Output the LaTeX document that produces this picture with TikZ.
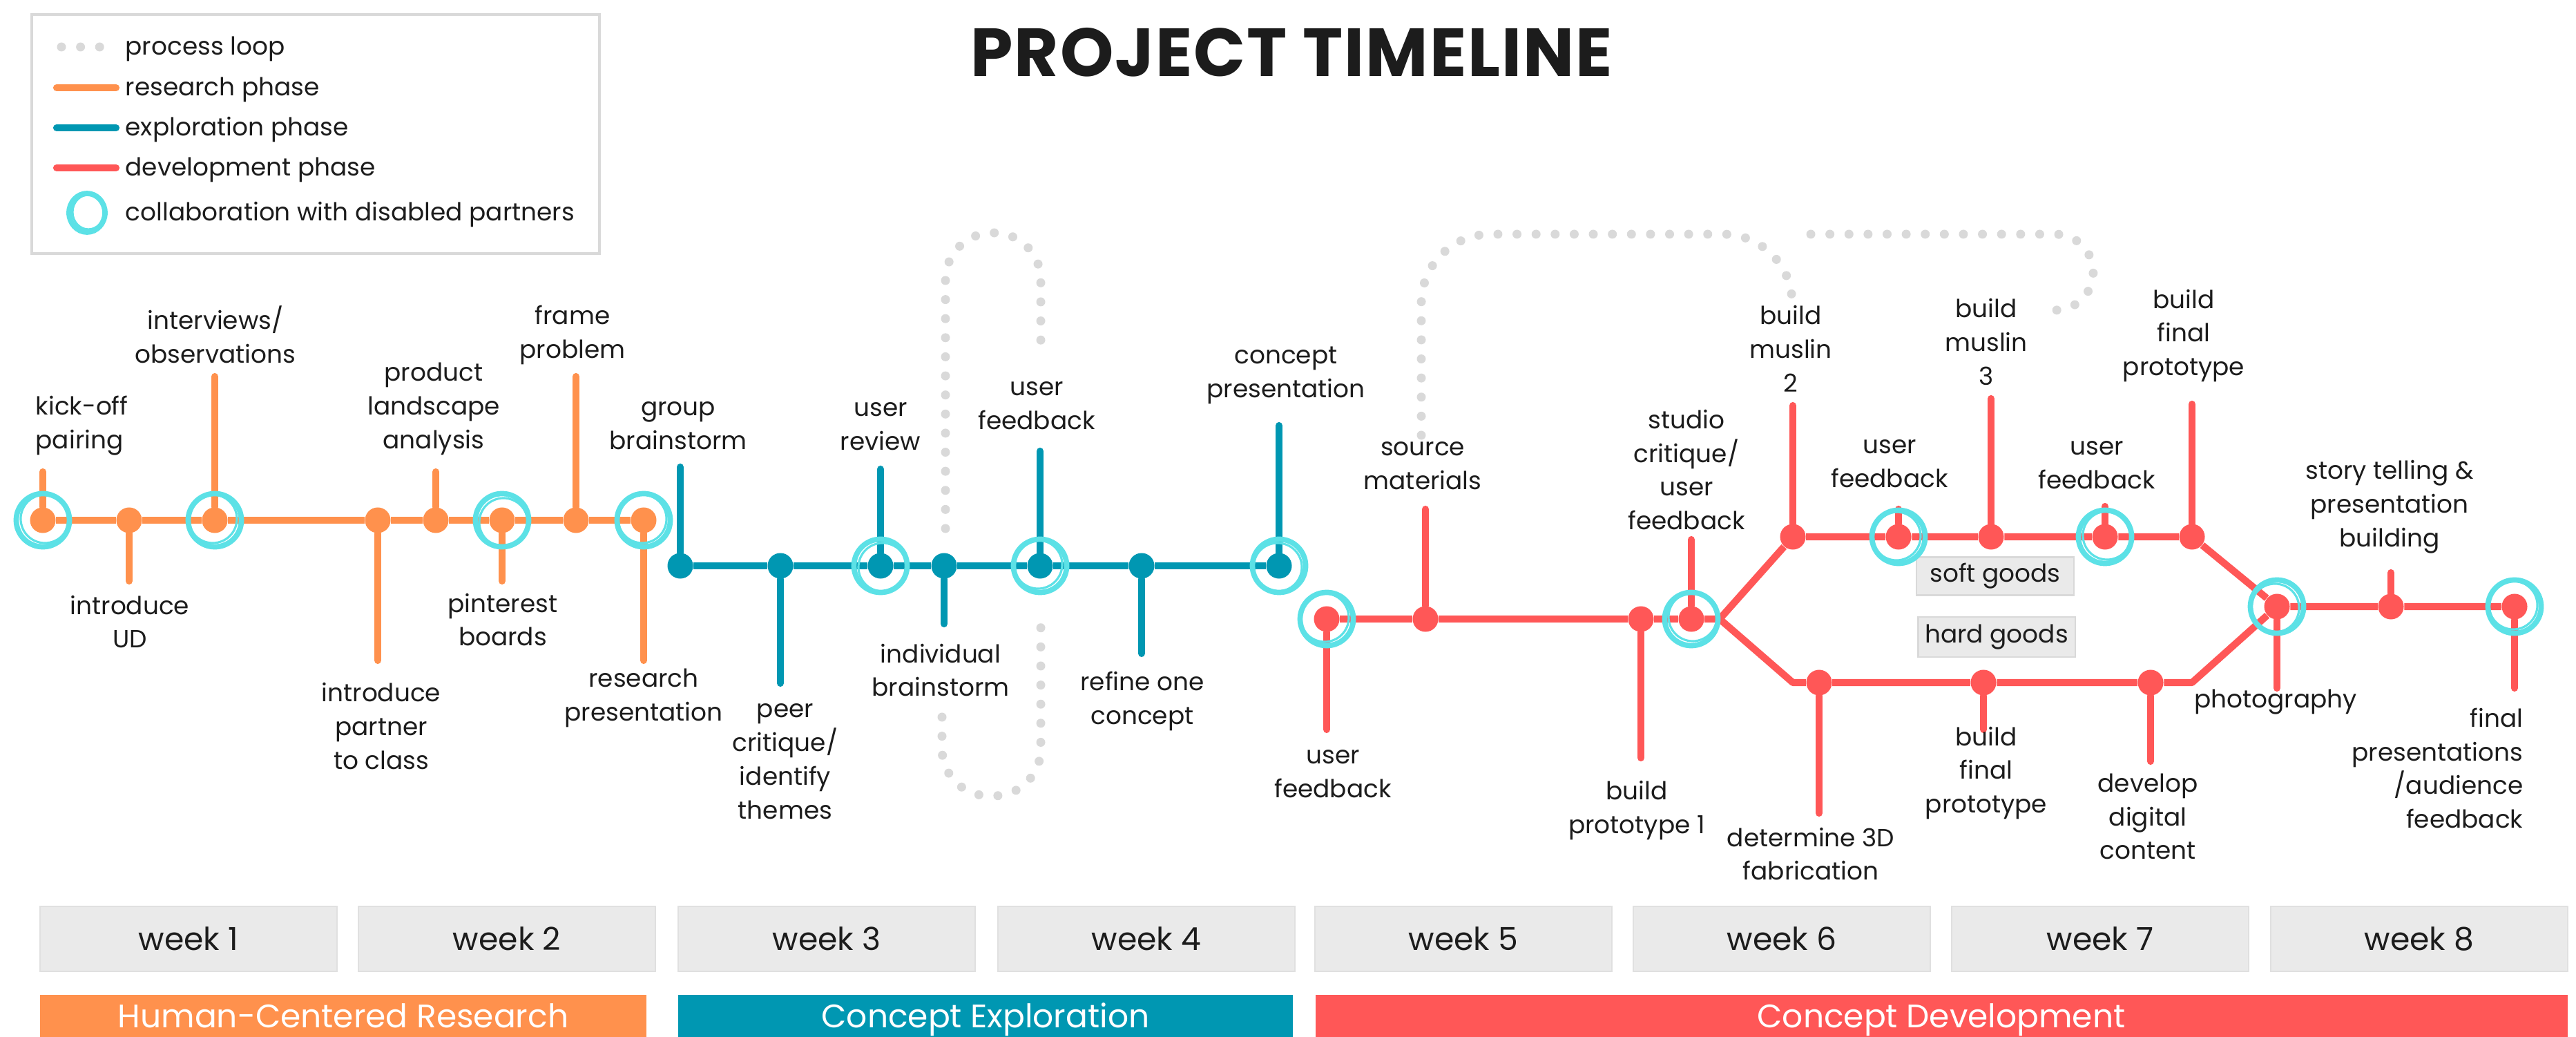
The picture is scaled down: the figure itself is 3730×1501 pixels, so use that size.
\documentclass[tikz,border=0pt]{standalone}
\usepackage{fontspec}
\setmainfont{Poppins}
\definecolor{research}{HTML}{FF914D}
\definecolor{explore}{HTML}{0097B2}
\definecolor{develop}{HTML}{FF5757}
\definecolor{collab}{HTML}{5CE1E6}
\definecolor{loopgray}{HTML}{D9D9D9}
\definecolor{weekgray}{HTML}{EAEAEA}
\definecolor{ink}{HTML}{1C1C1C}
\newcommand{\lblfont}{\fontsize{10.2}{13.9}\selectfont}
\newcommand{\weekfont}{\fontsize{13}{15}\selectfont}
\newcommand{\barfont}{\fontsize{13.4}{16}\selectfont}
\newcommand{\titlefont}{\fontsize{28}{32}\selectfont\bfseries\addfontfeatures{LetterSpace=2}}
\begin{document}
\begin{tikzpicture}[x=0.01cm, y=-0.01cm,
	milestone/.style={circle, fill=#1, inner sep=0pt, minimum size=0.37cm},
	phaseline/.style={draw=#1, line width=2.9pt, line join=round},
	stemline/.style={draw=#1, line width=2.9pt, line cap=round},
	collabring/.style={draw=collab, line width=2.2pt},
	collabin/.style={draw=collab, line width=0.9pt},
	lbl/.style={align=center, inner sep=0pt, font=\lblfont, text=ink},
	legendtext/.style={anchor=west, inner sep=0pt, font=\lblfont, text=ink, text height=1.1ex, text depth=0pt},
	loopdots/.style={draw=loopgray, line width=3.7pt, line cap=round, dash pattern=on 0pt off 0.276cm},
	weekbox/.style={fill=weekgray, draw=black!12, minimum width=4.3cm, minimum height=0.94cm, inner sep=0pt, font=\weekfont, text=ink},
	phasebar/.style={fill=#1, inner sep=0pt, text=white, font=\barfont, minimum height=0.63cm, text height=1.6ex, text depth=0pt},
	goodsbox/.style={fill=weekgray, draw=black!15, line width=0.6pt, inner sep=0pt, font=\lblfont, text=ink}]
	\useasboundingbox (0,0) rectangle (3730,1501);

	% title and legend
	\node[font=\titlefont, text=ink] (title) at (1870,76) {PROJECT TIMELINE};
	\draw[draw=loopgray, line width=0.9pt] (46,21) rectangle (868,367);
	\coordinate (lgdotA) at (89,68);
	\coordinate (lgdotB) at (146,68);
	\draw[loopdots] (lgdotA) -- (lgdotB);
	\coordinate (lgresA) at (82,127);
	\coordinate (lgresB) at (168,127);
	\draw[stemline=research] (lgresA) -- (lgresB);
	\coordinate (lgexpA) at (82,185);
	\coordinate (lgexpB) at (168,185);
	\draw[stemline=explore] (lgexpA) -- (lgexpB);
	\coordinate (lgdevA) at (82,243);
	\coordinate (lgdevB) at (168,243);
	\draw[stemline=develop] (lgdevA) -- (lgdevB);
	\coordinate (lgring) at (126,308);
	\draw[collabring] (lgring) circle[x radius=0.26cm, y radius=0.28cm];
	\draw[collabin] ([shift={(0.02cm,0.01cm)}]lgring) circle[x radius=0.23cm, y radius=0.25cm];
	\node[legendtext] (lgt1) at (181,69) {process loop};
	\node[legendtext] (lgt2) at (181,128) {research phase};
	\node[legendtext] (lgt3) at (181,186) {exploration phase};
	\node[legendtext] (lgt4) at (181,244) {development phase};
	\node[legendtext] (lgt5) at (181,309) {collaboration with disabled partners};

	% process loops
	\draw[loopdots, rounded corners=0.68cm] (1369,765) -- (1369,337) -- (1507,337) -- (1507,518);
	\draw[loopdots, rounded corners=0.68cm] (1364,1038) -- (1364,1152) -- (1507,1152) -- (1507,887);
	\draw[loopdots, rounded corners=1cm] (2058,630) -- (2058,339) -- (2595,339) [rounded corners=0.35cm] -- (2595,431);
	\draw[loopdots, rounded corners=0.55cm] (2622,339) -- (3031,339) -- (3031,449) -- (2960,449);

	% research phase
	\node[milestone=research] (r1) at (62,753) {};
	\node[milestone=research] (r2) at (187,753) {};
	\node[milestone=research] (r3) at (311,753) {};
	\node[milestone=research] (r4) at (547,753) {};
	\node[milestone=research] (r5) at (631,753) {};
	\node[milestone=research] (r6) at (727,753) {};
	\node[milestone=research] (r7) at (834,753) {};
	\node[milestone=research] (r8) at (932,753) {};
	\coordinate (r1e) at (62,683);
	\coordinate (r2e) at (187,841);
	\coordinate (r3e) at (311,545);
	\coordinate (r4e) at (547,956);
	\coordinate (r5e) at (631,683);
	\coordinate (r6e) at (727,841);
	\coordinate (r7e) at (834,545);
	\coordinate (r8e) at (932,956);
	\draw[phaseline=research] (r1) -- (r2) -- (r3) -- (r4) -- (r5) -- (r6) -- (r7) -- (r8);
	\draw[stemline=research] (r1) -- (r1e);
	\draw[stemline=research] (r2) -- (r2e);
	\draw[stemline=research] (r3) -- (r3e);
	\draw[stemline=research] (r4) -- (r4e);
	\draw[stemline=research] (r5) -- (r5e);
	\draw[stemline=research] (r6) -- (r6e);
	\draw[stemline=research] (r7) -- (r7e);
	\draw[stemline=research] (r8) -- (r8e);
	\node[lbl, align=left, anchor=west] (lkick) at (51,616) {kick-off\\pairing};
	\node[lbl] (lud) at (188,900) {introduce\\UD};
	\node[lbl] (linterv) at (312,484) {interviews/\\observations};
	\node[lbl] (lpartner) at (552,1051) {introduce\\partner\\to class};
	\node[lbl] (lproduct) at (628,592) {product\\landscape\\analysis};
	\node[lbl] (lpinterest) at (728,897) {pinterest\\boards};
	\node[lbl] (lframe) at (829,485) {frame\\problem};
	\node[lbl] (lrespres) at (932,1010) {research\\presentation};

	% exploration phase
	\node[milestone=explore] (t1) at (985,819) {};
	\node[milestone=explore] (t2) at (1130,819) {};
	\node[milestone=explore] (t3) at (1275,819) {};
	\node[milestone=explore] (t4) at (1367,819) {};
	\node[milestone=explore] (t5) at (1506,819) {};
	\node[milestone=explore] (t6) at (1653,819) {};
	\node[milestone=explore] (t7) at (1852,819) {};
	\coordinate (t1e) at (985,676);
	\coordinate (t2e) at (1130,989);
	\coordinate (t3e) at (1275,679);
	\coordinate (t4e) at (1367,903);
	\coordinate (t5e) at (1506,653);
	\coordinate (t6e) at (1653,946);
	\coordinate (t7e) at (1852,616);
	\draw[phaseline=explore] (t1) -- (t2) -- (t3) -- (t4) -- (t5) -- (t6) -- (t7);
	\draw[stemline=explore] (t1) -- (t1e);
	\draw[stemline=explore] (t2) -- (t2e);
	\draw[stemline=explore] (t3) -- (t3e);
	\draw[stemline=explore] (t4) -- (t4e);
	\draw[stemline=explore] (t5) -- (t5e);
	\draw[stemline=explore] (t6) -- (t6e);
	\draw[stemline=explore] (t7) -- (t7e);
	\node[lbl] (lgroup) at (982,616) {group\\brainstorm};
	\node[lbl] (lpeer) at (1137,1102) {peer\\critique/\\identify\\themes};
	\node[lbl] (lreview) at (1275,617) {user\\review};
	\node[lbl] (lindiv) at (1362,970) {individual\\brainstorm};
	\node[lbl] (lfeedA) at (1501,587) {user\\feedback};
	\node[lbl] (lrefine) at (1654,1015) {refine one\\concept};
	\node[lbl] (lconcept) at (1862,543) {concept\\presentation};

	% development phase
	\node[milestone=develop] (d1) at (1921,896) {};
	\node[milestone=develop] (d2) at (2064,896) {};
	\node[milestone=develop] (d3) at (2376,896) {};
	\node[milestone=develop] (d4) at (2449,896) {};
	\coordinate (dsplit) at (2490,896);
	\node[milestone=develop] (u1) at (2596,777) {};
	\node[milestone=develop] (u2) at (2749,777) {};
	\node[milestone=develop] (u3) at (2883,777) {};
	\node[milestone=develop] (u4) at (3048,777) {};
	\node[milestone=develop] (u5) at (3174,777) {};
	\coordinate (dlowA) at (2596,988);
	\node[milestone=develop] (l1) at (2634,988) {};
	\node[milestone=develop] (l2) at (2872,988) {};
	\node[milestone=develop] (l3) at (3114,988) {};
	\coordinate (dlowB) at (3174,988);
	\node[milestone=develop] (m1) at (3297,878) {};
	\node[milestone=develop] (m2) at (3462,878) {};
	\node[milestone=develop] (m3) at (3641,878) {};
	\coordinate (d1e) at (1921,1056);
	\coordinate (d2e) at (2064,737);
	\coordinate (d3e) at (2376,1097);
	\coordinate (d4e) at (2449,781);
	\coordinate (u1e) at (2596,587);
	\coordinate (u2e) at (2749,737);
	\coordinate (u3e) at (2883,577);
	\coordinate (u4e) at (3048,733);
	\coordinate (u5e) at (3174,585);
	\coordinate (l1e) at (2634,1177);
	\coordinate (l2e) at (2872,1056);
	\coordinate (l3e) at (3114,1102);
	\coordinate (m1e) at (3297,996);
	\coordinate (m2e) at (3462,829);
	\coordinate (m3e) at (3641,996);
	\draw[phaseline=develop] (d1) -- (d2) -- (d3) -- (d4) -- (dsplit) -- (u1) -- (u2) -- (u3) -- (u4) -- (u5) -- (m1) -- (m2) -- (m3);
	\draw[phaseline=develop] (dsplit) -- (dlowA) -- (l1) -- (l2) -- (l3) -- (dlowB) -- (m1);
	\draw[stemline=develop] (d1) -- (d1e);
	\draw[stemline=develop] (d2) -- (d2e);
	\draw[stemline=develop] (d3) -- (d3e);
	\draw[stemline=develop] (d4) -- (d4e);
	\draw[stemline=develop] (u1) -- (u1e);
	\draw[stemline=develop] (u2) -- (u2e);
	\draw[stemline=develop] (u3) -- (u3e);
	\draw[stemline=develop] (u4) -- (u4e);
	\draw[stemline=develop] (u5) -- (u5e);
	\draw[stemline=develop] (l1) -- (l1e);
	\draw[stemline=develop] (l2) -- (l2e);
	\draw[stemline=develop] (l3) -- (l3e);
	\draw[stemline=develop] (m1) -- (m1e);
	\draw[stemline=develop] (m2) -- (m2e);
	\draw[stemline=develop] (m3) -- (m3e);
	\node[goodsbox, minimum width=2.28cm, minimum height=0.55cm] (soft) at (2889,834) {soft goods};
	\node[goodsbox, minimum width=2.27cm, minimum height=0.58cm] (hard) at (2891,922) {hard goods};
	\node[lbl] (lfeedB) at (1930,1120) {user\\feedback};
	\node[lbl] (lsource) at (2060,674) {source\\materials};
	\node[lbl] (lproto) at (2370,1173) {build\\prototype 1};
	\node[lbl] (lstudio) at (2442,680) {studio\\critique/\\user\\feedback};
	\node[lbl] (lmuslinA) at (2593,505) {build\\muslin\\2};
	\node[lbl] (lfeedC) at (2736,671) {user\\feedback};
	\node[lbl] (lfab) at (2622,1236) {determine 3D\\fabrication};
	\node[lbl] (lmuslinB) at (2876,495) {build\\muslin\\3};
	\node[lbl] (lfeedD) at (3036,673) {user\\feedback};
	\node[lbl] (lfinalA) at (3162,486) {build\\final\\prototype};
	\node[lbl] (lfinalB) at (2876,1119) {build\\final\\prototype};
	\node[lbl] (ldigital) at (3110,1182) {develop\\digital\\content};
	\node[lbl] (lphoto) at (3295,1016) {photography};
	\node[lbl] (lstory) at (3460,734) {story telling \&\\presentation\\building};
	\node[lbl, align=right, anchor=east] (lfinalpres) at (3654,1112) {final\\presentations\\/audience\\feedback};

	% collaboration rings
	\draw[collabring] (r1) circle[radius=0.385cm];
	\draw[collabin] ([shift={(0.03cm,0.02cm)}]r1) circle[radius=0.35cm];
	\draw[collabring] (r3) circle[radius=0.385cm];
	\draw[collabin] ([shift={(-0.03cm,0.02cm)}]r3) circle[radius=0.35cm];
	\draw[collabring] (r6) circle[radius=0.385cm];
	\draw[collabin] ([shift={(0.02cm,-0.03cm)}]r6) circle[radius=0.35cm];
	\draw[collabring] (r8) circle[radius=0.385cm];
	\draw[collabin] ([shift={(-0.02cm,0.02cm)}]r8) circle[radius=0.35cm];
	\draw[collabring] (t3) circle[radius=0.385cm];
	\draw[collabin] ([shift={(0.03cm,-0.02cm)}]t3) circle[radius=0.35cm];
	\draw[collabring] (t5) circle[radius=0.385cm];
	\draw[collabin] ([shift={(-0.03cm,0.02cm)}]t5) circle[radius=0.35cm];
	\draw[collabring] (t7) circle[radius=0.385cm];
	\draw[collabin] ([shift={(-0.02cm,-0.02cm)}]t7) circle[radius=0.35cm];
	\draw[collabring] (d1) circle[radius=0.385cm];
	\draw[collabin] ([shift={(-0.03cm,0.02cm)}]d1) circle[radius=0.35cm];
	\draw[collabring] (d4) circle[radius=0.385cm];
	\draw[collabin] ([shift={(0.02cm,0.03cm)}]d4) circle[radius=0.35cm];
	\draw[collabring] (u2) circle[radius=0.385cm];
	\draw[collabin] ([shift={(-0.03cm,0.01cm)}]u2) circle[radius=0.35cm];
	\draw[collabring] (u4) circle[radius=0.385cm];
	\draw[collabin] ([shift={(0.03cm,0.02cm)}]u4) circle[radius=0.35cm];
	\draw[collabring] (m1) circle[radius=0.385cm];
	\draw[collabin] ([shift={(-0.03cm,-0.02cm)}]m1) circle[radius=0.35cm];
	\draw[collabring] (m3) circle[radius=0.385cm];
	\draw[collabin] ([shift={(-0.02cm,0.02cm)}]m3) circle[radius=0.35cm];

	% weeks and phases
	\node[weekbox] (w1) at (273,1359) {week 1};
	\node[weekbox] (w2) at (734,1359) {week 2};
	\node[weekbox] (w3) at (1197,1359) {week 3};
	\node[weekbox] (w4) at (1660,1359) {week 4};
	\node[weekbox] (w5) at (2119,1359) {week 5};
	\node[weekbox] (w6) at (2580,1359) {week 6};
	\node[weekbox] (w7) at (3041,1359) {week 7};
	\node[weekbox] (w8) at (3503,1359) {week 8};
	\node[phasebar=research, minimum width=8.78cm] (bar1) at (497,1472) {Human-Centered Research};
	\node[phasebar=explore, minimum width=8.9cm] (bar2) at (1427,1472) {Concept Exploration};
	\node[phasebar=develop, minimum width=18.12cm] (bar3) at (2811,1472) {Concept Development};
\end{tikzpicture}
\end{document}
